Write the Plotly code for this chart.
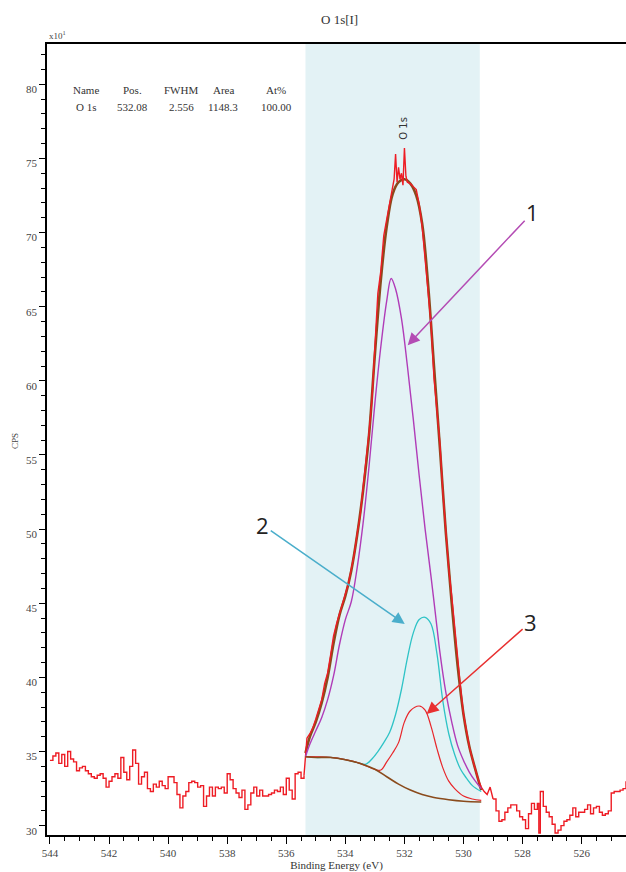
import plotly.graph_objects as go

# ---------------- data (binding energy in eV, CPS x10^1) ----------------
left_be = [544.0, 543.9, 543.8, 543.7, 543.6, 543.5, 543.4, 543.3, 543.2, 543.1,
           543.0, 542.9, 542.8, 542.7, 542.6, 542.5, 542.4, 542.3, 542.2, 542.1,
           542.0, 541.9, 541.8, 541.7, 541.6, 541.5, 541.4, 541.3, 541.2, 541.1,
           541.0, 540.9, 540.8, 540.7, 540.6, 540.5, 540.4, 540.3, 540.2, 540.1,
           540.0, 539.9, 539.8, 539.7, 539.6, 539.5, 539.4, 539.3, 539.2, 539.1,
           539.0, 538.9, 538.8, 538.7, 538.6, 538.5, 538.4, 538.3, 538.2, 538.1,
           538.0, 537.9, 537.8, 537.7, 537.6, 537.5, 537.4, 537.3, 537.2, 537.1,
           537.0, 536.9, 536.8, 536.7, 536.6, 536.5, 536.4, 536.3, 536.2, 536.1,
           536.0, 535.9, 535.8, 535.7, 535.6, 535.5, 535.4]
left_cps = [34.4, 34.7, 34.9, 34.2, 34.8, 34.0, 35.0, 34.5, 34.3, 33.7,
            33.9, 34.0, 33.7, 33.5, 33.3, 33.2, 33.4, 33.5, 33.2, 32.6,
            33.0, 33.3, 33.5, 33.2, 34.6, 33.6, 33.1, 34.0, 35.1, 34.2,
            32.8, 33.3, 33.6, 32.5, 32.3, 32.8, 32.6, 33.0, 32.7, 32.5,
            33.3, 33.3, 32.9, 32.1, 31.2, 32.0, 32.3, 32.9, 33.0, 32.9,
            32.6, 32.7, 31.3, 32.0, 32.6, 32.0, 32.6, 32.5, 32.6, 32.2,
            33.5, 33.1, 32.5, 32.2, 31.9, 32.4, 31.1, 31.4, 32.2, 32.6,
            32.0, 32.4, 32.0, 32.0, 32.1, 32.2, 32.4, 32.3, 32.6, 32.1,
            33.2, 32.4, 31.8, 33.5, 33.6, 33.2, 33.4]

peak_be = [535.4, 535.35, 535.3, 535.2, 535.1, 535.0, 534.9, 534.8, 534.7, 534.6, 534.5,
           534.4, 534.3, 534.2, 534.1, 534.0, 533.9, 533.8, 533.7, 533.6, 533.5,
           533.4, 533.3, 533.2, 533.1, 533.0, 532.9, 532.8, 532.7, 532.6, 532.5,
           532.4, 532.35, 532.3, 532.25, 532.2, 532.15, 532.1, 532.05, 532.0, 531.95,
           531.9, 531.8, 531.7, 531.6, 531.5, 531.4, 531.3, 531.2, 531.1, 531.0,
           530.9, 530.8, 530.7, 530.6, 530.5, 530.4, 530.3, 530.2, 530.1, 530.0,
           529.9, 529.8, 529.7, 529.6, 529.5, 529.4, 529.3, 529.2, 529.1, 529.0]
peak_cps = [33.4, 34.9, 35.9, 36.2, 36.6, 37.2, 37.9, 38.5, 39.6, 40.3, 41.5,
            42.8, 43.6, 44.3, 45.0, 45.6, 46.3, 47.3, 48.3, 49.7, 50.9,
            52.8, 54.6, 56.5, 58.7, 62.5, 65.9, 67.4, 69.8, 70.9, 72.0,
            73.0, 73.6, 75.3, 73.4, 74.4, 73.6, 74.0, 73.2, 75.7, 73.8,
            73.4, 73.3, 73.1, 72.9, 71.9, 70.4, 68.2, 65.9, 63.8, 60.2,
            57.9, 55.8, 52.5, 49.7, 47.3, 45.5, 43.3, 41.3, 39.3, 37.5,
            36.4, 35.3, 34.5, 33.7, 33.1, 32.6, 32.3, 32.1, 32.6, 31.8]

right_be = [529.0, 528.9, 528.8, 528.7, 528.6, 528.5, 528.4, 528.3, 528.2, 528.1,
            528.0, 527.9, 527.8, 527.7, 527.6, 527.5, 527.45, 527.4, 527.3, 527.2,
            527.1, 527.0, 526.9, 526.8, 526.7, 526.6, 526.5, 526.4, 526.3, 526.2,
            526.1, 526.0, 525.9, 525.8, 525.7, 525.6, 525.5, 525.4, 525.3, 525.2,
            525.1, 525.0, 524.9, 524.8, 524.7, 524.6, 524.5]
right_cps = [31.8, 31.0, 30.3, 30.4, 30.9, 31.2, 31.4, 31.4, 31.0, 30.6,
             30.4, 29.8, 30.8, 31.5, 31.1, 31.5, 29.5, 32.3, 31.3, 30.9,
             30.6, 30.1, 29.5, 29.7, 30.0, 30.3, 30.4, 30.7, 31.2, 30.6,
             30.9, 30.9, 31.1, 31.4, 30.8, 31.2, 31.3, 30.9, 30.7, 30.8,
             31.0, 32.2, 32.3, 32.3, 32.4, 32.5, 33.0]

# fitted envelope (sum of components + background)
fit_be = [535.35, 535.2, 535.0, 534.8, 534.6, 534.4, 534.2, 534.0, 533.8, 533.6,
          533.4, 533.2, 533.0, 532.8, 532.6, 532.4, 532.2, 532.0, 531.8, 531.6,
          531.4, 531.2, 531.0, 530.8, 530.6, 530.4, 530.2, 530.0, 529.8, 529.6,
          529.4]
fit_cps = [34.9, 36.0, 37.0, 38.3, 40.0, 42.3, 44.2, 45.5, 47.2, 49.6,
           52.6, 56.3, 61.8, 66.8, 70.4, 72.6, 73.4, 73.6, 73.3, 72.5,
           70.6, 66.5, 61.0, 55.5, 49.8, 45.0, 40.8, 37.5, 35.3, 33.8,
           32.4]

# Shirley background
bg_be = [535.35, 535.0, 534.5, 534.0, 533.5, 533.0, 532.6, 532.2, 531.8, 531.4,
         531.0, 530.5, 530.0, 529.4]
bg_cps = [34.65, 34.6, 34.6, 34.45, 34.2, 33.8, 33.3, 32.8, 32.4, 32.1,
          31.9, 31.75, 31.65, 31.6]

# component 1 (purple)
c1_be = [535.35, 535.2, 535.0, 534.8, 534.6, 534.4, 534.2, 534.0, 533.8, 533.6,
         533.4, 533.2, 533.0, 532.8, 532.6, 532.45, 532.3, 532.1, 531.9, 531.7,
         531.5, 531.3, 531.1, 530.9, 530.8, 530.6, 530.4, 530.2, 530.0, 529.8,
         529.6, 529.4]
c1_cps = [34.65, 35.5, 36.4, 37.3, 38.5, 40.1, 42.2, 43.9, 45.1, 47.4,
          50.4, 54.2, 58.5, 62.3, 65.4, 66.9, 66.2, 64.2, 61.0, 57.4,
          53.6, 50.0, 46.8, 43.4, 41.7, 39.0, 37.0, 35.4, 34.4, 33.6,
          33.0, 32.5]

# component 2 (cyan)
c2_be = [535.35, 535.0, 534.5, 534.0, 533.5, 533.3, 533.1, 532.9, 532.7, 532.5,
         532.3, 532.1, 531.9, 531.7, 531.5, 531.3, 531.1, 530.9, 530.7, 530.5,
         530.3, 530.1, 529.9, 529.7, 529.4]
c2_cps = [34.65, 34.6, 34.6, 34.45, 34.2, 34.15, 34.5, 35.0, 35.6, 36.3,
          37.5, 39.2, 41.3, 43.0, 43.9, 44.05, 43.6, 41.6, 38.4, 36.2,
          34.8, 33.8, 33.2, 32.7, 32.3]

# component 3 (red)
c3_be = [535.35, 534.5, 534.0, 533.5, 533.0, 532.8, 532.6, 532.4, 532.2, 532.0,
         531.8, 531.5, 531.3, 531.1, 530.9, 530.7, 530.5, 530.3, 530.0, 529.7,
         529.4]
c3_cps = [34.65, 34.6, 34.45, 34.2, 33.8, 33.75, 34.3, 34.9, 35.6, 37.0,
          37.75, 38.07, 37.8, 36.7, 35.2, 33.9, 33.0, 32.5, 32.0, 31.8,
          31.7]

x_ticks = [544, 542, 540, 538, 536, 534, 532, 530, 528, 526]
y_ticks = [30, 35, 40, 45, 50, 55, 60, 65, 70, 75, 80]

table_head = ["Name", "Pos.", "FWHM", "Area", "At%"]
table_row = ["O 1s", "532.08", "2.556", "1148.3", "100.00"]

# ---------------- figure ----------------
W, H = 626, 872
ML, MR, MT, MB = 47, 0, 44, 37


def paper(px, py):
    return (px - ML) / (W - ML - MR), (H - MB - py) / (H - MT - MB)


RED = "#ee1c24"
fig = go.Figure()
fig.add_vrect(x0=535.35, x1=529.45, fillcolor="#e3f2f5", line_width=0, layer="below")

fig.add_trace(go.Scatter(x=fit_be, y=fit_cps, mode="lines", line=dict(color="#8a4b1c", width=2.6, shape="spline")))
fig.add_trace(go.Scatter(x=left_be, y=left_cps, mode="lines", line=dict(color=RED, width=1.4, shape="hv")))
fig.add_trace(go.Scatter(x=peak_be, y=peak_cps, mode="lines", line=dict(color=RED, width=1.4)))
fig.add_trace(go.Scatter(x=right_be, y=right_cps, mode="lines", line=dict(color=RED, width=1.4, shape="hv")))
fig.add_trace(go.Scatter(x=c1_be, y=c1_cps, mode="lines", line=dict(color="#b03cb8", width=1.4, shape="spline")))
fig.add_trace(go.Scatter(x=c2_be, y=c2_cps, mode="lines", line=dict(color="#2ec3c6", width=1.3, shape="spline")))
fig.add_trace(go.Scatter(x=c3_be, y=c3_cps, mode="lines", line=dict(color="#e8262a", width=1.2, shape="spline")))
fig.add_trace(go.Scatter(x=bg_be, y=bg_cps, mode="lines", line=dict(color="#8a4b1c", width=1.6, shape="spline")))

serif = "Liberation Serif"
tickfont = dict(family=serif, size=11, color="#444")

fig.update_layout(
    width=W, height=H,
    margin=dict(l=ML, r=MR, t=MT, b=MB),
    paper_bgcolor="white", plot_bgcolor="white",
    showlegend=False,
    xaxis=dict(range=[544.1, 524.5], tickvals=x_ticks, ticktext=[str(v) for v in x_ticks],
               showgrid=False, zeroline=False, showline=True, linecolor="black", linewidth=1.5,
               mirror=True, ticks="outside", ticklen=7, tickwidth=1.2, tickcolor="black",
               minor=dict(dtick=0.5, ticks="outside", ticklen=4, tickcolor="black", showgrid=False),
               tickfont=tickfont,
               title=dict(text="Binding Energy (eV)", font=dict(family=serif, size=11, color="#333"), standoff=4)),
    yaxis=dict(range=[29.37, 82.72], tickvals=y_ticks, ticktext=[str(v) for v in y_ticks],
               showgrid=False, zeroline=False, showline=True, linecolor="black", linewidth=1.5,
               ticks="outside", ticklen=6, tickwidth=1.2, tickcolor="black",
               minor=dict(dtick=1, ticks="outside", ticklen=4, tickcolor="black", showgrid=False),
               tickfont=tickfont, ticklabelshift=5),
)

ann = []
tx, ty = paper(340, 20)
ann.append(dict(x=tx, y=ty, xref="paper", yref="paper", text="O 1s[I]", showarrow=False,
                font=dict(family=serif, size=13, color="#333"), xanchor="center", yanchor="middle"))
tx, ty = paper(47, 35)
ann.append(dict(x=tx, y=ty, xref="paper", yref="paper", text="x10<sup>1</sup>", showarrow=False,
                font=dict(family=serif, size=9, color="#444"), xanchor="left", yanchor="middle"))
tx, ty = paper(15, 441)
ann.append(dict(x=tx, y=ty, xref="paper", yref="paper", text="CPS", showarrow=False, textangle=-90,
                font=dict(family=serif, size=9, color="#444"), xanchor="center", yanchor="middle"))
col_x = [86, 132, 181, 223, 276]
for i, (h, r) in enumerate(zip(table_head, table_row)):
    hx, hy = paper(col_x[i], 90)
    rx, ry = paper(col_x[i], 107)
    ann.append(dict(x=hx, y=hy, xref="paper", yref="paper", text=h, showarrow=False,
                    font=dict(family=serif, size=11, color="#333"), xanchor="center", yanchor="middle"))
    ann.append(dict(x=rx, y=ry, xref="paper", yref="paper", text=r, showarrow=False,
                    font=dict(family=serif, size=11, color="#333"), xanchor="center", yanchor="middle"))
ann.append(dict(x=532.06, y=77.05, xref="x", yref="y", text="O 1s", showarrow=False, textangle=-90,
                font=dict(family="DejaVu Sans", size=10, color="#333"), xanchor="center", yanchor="middle"))

# numbered arrows: label sits at the arrow tail
arrows = [
    ("1", 531.89, 62.41, 125, -133, "#b44cb4"),
    ("2", 531.99, 43.6, -142, -99, "#4aaecb"),
    ("3", 531.25, 37.53, 104, -92, "#e83030"),
]
for t, x, y, ax, ay, c in arrows:
    ann.append(dict(x=x, y=y, xref="x", yref="y", ax=ax, ay=ay, axref="pixel", ayref="pixel",
                    text=t, font=dict(family="Open Sans", size=22, color="#222"),
                    showarrow=True, arrowhead=2, arrowsize=1.6, arrowwidth=1.5, arrowcolor=c))

fig.update_layout(annotations=ann)
fig.write_html("out.html")
